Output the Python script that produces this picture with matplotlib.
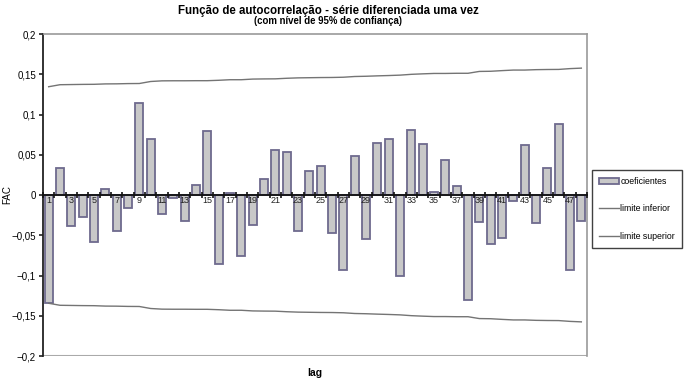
import numpy as np
import matplotlib
matplotlib.use("Agg")
import matplotlib.pyplot as plt
from matplotlib.ticker import FuncFormatter

plt.rcParams['font.family'] = ['Liberation Sans', 'DejaVu Sans']

lags = np.arange(1, 49)
fac = [-0.134, 0.033, -0.038, -0.027, -0.058, 0.007, -0.045, -0.016, 0.114, 0.070,
       -0.023, -0.004, -0.032, 0.012, 0.079, -0.086, 0.002, -0.076, -0.037, 0.020,
       0.056, 0.054, -0.045, 0.030, 0.036, -0.047, -0.093, 0.049, -0.055, 0.064,
       0.0695, -0.100, 0.081, 0.063, 0.004, 0.043, 0.011, -0.131, -0.0335, -0.061,
       -0.054, -0.008, 0.062, -0.035, 0.0335, 0.088, -0.093, -0.032]
limite = [0.1345, 0.137, 0.1372, 0.1374, 0.1375, 0.138, 0.1381, 0.1384, 0.1385, 0.141,
          0.1418, 0.1419, 0.1419, 0.142, 0.142, 0.1425, 0.1432, 0.1432, 0.144, 0.1442,
          0.1443, 0.145, 0.1455, 0.1457, 0.1459, 0.146, 0.1463, 0.1472, 0.1475, 0.148,
          0.1484, 0.1489, 0.1499, 0.1505, 0.151, 0.151, 0.1512, 0.1512, 0.1535, 0.1537,
          0.1545, 0.1552, 0.1552, 0.1557, 0.1559, 0.156, 0.157, 0.1576]
limite_inf = [-v for v in limite]
limite_sup = limite

fig = plt.figure(figsize=(6.85, 3.81), dpi=100)
ax = fig.add_axes([43 / 685, 1 - 356 / 381, 544 / 685, 322 / 381])

bars = ax.bar(lags, fac, width=0.68, color='#c8c8c8', edgecolor='#6e6a8e', linewidth=1.3,
              label='coeficientes', zorder=2)
l_inf, = ax.plot(lags, limite_inf, color='#747474', linewidth=1.0, label='limite inferior', zorder=3)
l_sup, = ax.plot(lags, limite_sup, color='#747474', linewidth=1.0, label='limite superior', zorder=3)

ax.set_xlim(0.5, 48.5)
ax.set_ylim(-0.2, 0.2)
ax.set_axisbelow(False)

# borders of plot area
for s in ['top', 'right']:
    ax.spines[s].set_color('#999999')
    ax.spines[s].set_linewidth(1.2)
ax.spines['left'].set_color('#222222')
ax.spines['left'].set_linewidth(1.3)
ax.axhline(-0.2, color='#aaaaaa', linewidth=1.5, zorder=1)

# category axis drawn at zero
ax.spines['bottom'].set_position(('data', 0))
ax.spines['bottom'].set_color('#111111')
ax.spines['bottom'].set_linewidth(1.3)
ax.spines['bottom'].set_zorder(4)
ax.set_xticks(np.arange(0.5, 49, 1))
ax.set_xticklabels([])
ax.tick_params(axis='x', which='major', direction='inout', length=4, width=1.2, color='#111111')
ax.set_xticks(lags, minor=True)
ax.set_xticklabels([str(l) if l % 2 == 1 else '' for l in lags], minor=True, fontsize=6.5)
ax.tick_params(axis='x', which='minor', length=0, pad=1, labelcolor='#222222')

ax.set_yticks(np.arange(-0.2, 0.201, 0.05))
ax.yaxis.set_major_formatter(FuncFormatter(
    lambda v, p: '0' if abs(v) < 1e-9 else ('%g' % round(v, 2)).replace('.', ',').replace('-', '\u2212')))
ax.tick_params(axis='y', direction='out', length=3, width=1.2, labelsize=7, pad=2, color='#222222')

ax.set_ylabel('FAC', fontsize=7)
ax.yaxis.set_label_coords(-31 / 544, 0.5)
fig.text(315 / 685, 1 - 373 / 381, 'lag', ha='center', va='center', fontsize=7.5, fontweight='bold')

fig.text(328 / 685, 1 - 11 / 381, 'Função de autocorrelação - série diferenciada uma vez',
         ha='center', va='center', fontsize=8.3, fontweight='bold')
fig.text(328 / 685, 1 - 21 / 381, '(com nível de 95% de confiança)',
         ha='center', va='center', fontsize=6.9, fontweight='bold')

leg = fig.legend([bars, l_inf, l_sup], ['coeficientes', 'limite inferior', 'limite superior'],
                 loc='upper left', bbox_to_anchor=(592 / 685, 1 - 170 / 381), fontsize=6.3,
                 frameon=True, fancybox=False, edgecolor='#111111', handlelength=2.3,
                 handleheight=0.6, handletextpad=0.15, labelspacing=2.1, borderpad=0.8,
                 borderaxespad=0)
leg.get_frame().set_linewidth(1.0)

fig.savefig('out.png', dpi=100)
